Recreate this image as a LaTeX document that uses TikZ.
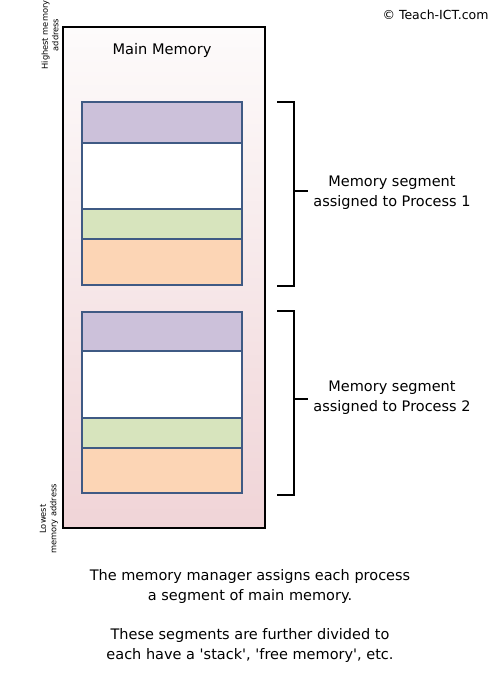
\documentclass[tikz,border=0pt]{standalone}
\usepackage{fontspec}
\setmainfont{DejaVu Sans}
\definecolor{segpurple}{HTML}{CCC1DA}
\definecolor{seggreen}{HTML}{D7E4BD}
\definecolor{segorange}{HTML}{FCD5B5}
\definecolor{segborder}{HTML}{3F5A84}
\definecolor{memtop}{HTML}{FDFBFB}
\definecolor{membot}{HTML}{F0D4D7}
\begin{document}
\begin{tikzpicture}[x=1pt,y=-1pt,
  seg/.style={draw=segborder,line width=1.6pt},
  brace/.style={draw=black,line width=1.3pt},
  lbl/.style={font=\fontsize{14.5}{20}\selectfont,align=center,inner sep=0pt},
  small/.style={font=\fontsize{8.3}{10.5}\selectfont,align=center,inner sep=0pt,rotate=90}]
\useasboundingbox (0,0) rectangle (500,684);
\fill[white] (0,0) rectangle (500,684);
% main memory
\shade[top color=memtop,bottom color=membot] (63,27) rectangle (265,528);
\draw[line width=1.4pt] (63,27) rectangle (265,528);
\node[lbl,font=\fontsize{14.6}{17}\selectfont] (mm) at (162,50) {Main Memory};
% segment 1
\filldraw[seg,fill=segpurple] (82,102) rectangle (242,143);
\filldraw[seg,fill=white] (82,143) rectangle (242,209);
\filldraw[seg,fill=seggreen] (82,209) rectangle (242,239);
\filldraw[seg,fill=segorange] (82,239) rectangle (242,285);
% segment 2
\filldraw[seg,fill=segpurple] (82,312) rectangle (242,351);
\filldraw[seg,fill=white] (82,351) rectangle (242,418);
\filldraw[seg,fill=seggreen] (82,418) rectangle (242,448);
\filldraw[seg,fill=segorange] (82,448) rectangle (242,493);
% brackets
\draw[brace] (277,102) -- (294,102) -- (294,286) -- (277,286);
\draw[brace] (294,191) -- (308,191);
\draw[brace] (277,311) -- (294,311) -- (294,495) -- (277,495);
\draw[brace] (294,399) -- (308,399);
% labels
\node[lbl] (p1) at (392,193) {Memory segment\\assigned to Process 1};
\node[lbl] (p2) at (392,398) {Memory segment\\assigned to Process 2};
\node[small] (hi) at (50,35) {Highest memory\\address};
\node[small] (lo) at (49,519) {Lowest\\memory address};
\node[lbl,font=\fontsize{12.5}{14}\selectfont] (cr) at (435.5,15) {© Teach-ICT.com};
\node[lbl] (t1) at (250,586) {The memory manager assigns each process\\a segment of main memory.};
\node[lbl] (t2) at (250,645) {These segments are further divided to\\each have a \textquotesingle stack\textquotesingle, \textquotesingle free memory\textquotesingle, etc.};
\end{tikzpicture}
\end{document}
